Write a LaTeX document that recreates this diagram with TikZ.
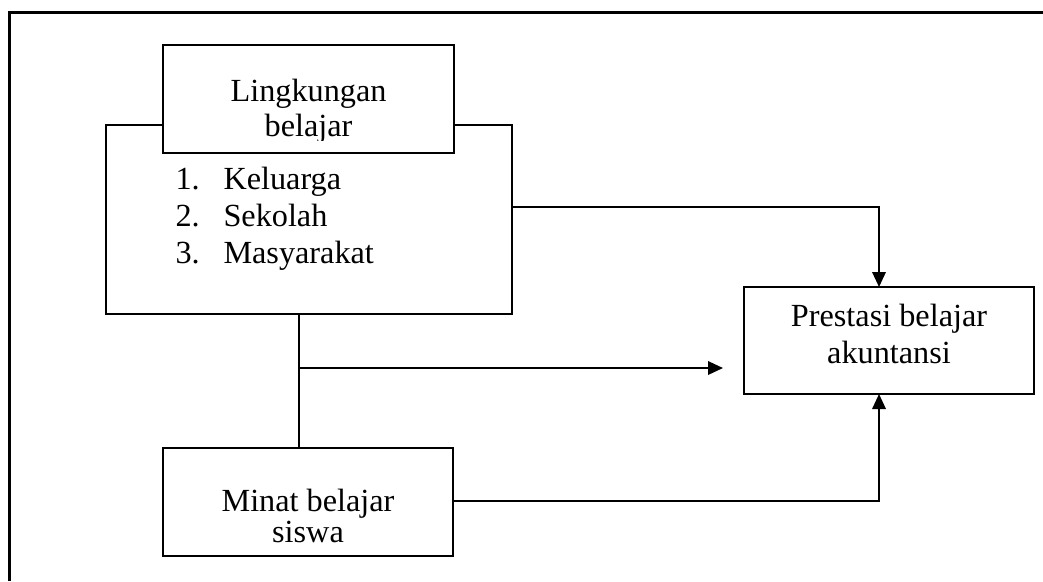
\documentclass[tikz,border=0pt]{standalone}
\usepackage{fontspec}
\setmainfont{Liberation Serif}
\usetikzlibrary{arrows.meta}
\begin{document}
\begin{tikzpicture}[x=0.4pt,y=-0.4pt,
  box/.style={draw,line width=0.75pt,minimum width=#1*0.4pt,inner sep=0pt},
  lbl/.style={anchor=base,inner sep=0pt,font=\fontsize{12.9}{15}\selectfont},
  con/.style={line width=0.75pt},
  arr/.style={con,-{Triangle[length=6pt,width=5.4pt]}}]
\useasboundingbox (0,0) rectangle (1043,581);
% frame
\draw[line width=1.2pt] (9,581) -- (9,12) -- (1043,12);
% boxes
\node[box=406,minimum height=189*0.4pt] (big) at (309,219.5) {};
\node[box=291,minimum height=108*0.4pt,fill=white] (top) at (308.5,99) {};
\node[box=290,minimum height=107*0.4pt] (pre) at (889,340.5) {};
\node[box=290,minimum height=108*0.4pt] (min) at (308,502) {};
% texts
\node[lbl] (t1) at (308.5,101) {Lingkungan};
\begin{scope}
\clip (160,100) rectangle (460,140);
\node[lbl] (t2) at (308.5,136) {belajar};
\end{scope}
\node[lbl,anchor=base west] (n1) at (175,189) {1.};
\node[lbl,anchor=base west] (k1) at (223,189) {Keluarga};
\node[lbl,anchor=base west] (n2) at (175,226) {2.};
\node[lbl,anchor=base west] (k2) at (223,226) {Sekolah};
\node[lbl,anchor=base west] (n3) at (175,263) {3.};
\node[lbl,anchor=base west] (k3) at (223,263) {Masyarakat};
\node[lbl] (p1) at (889,326) {Prestasi belajar};
\node[lbl] (p2) at (889,363) {akuntansi};
\node[lbl] (m1) at (308,511) {Minat belajar};
\node[lbl] (m2) at (308,542) {siswa};
% connectors
\coordinate (ta) at (879,287);
\coordinate (ba) at (879,394);
\coordinate (j) at (299,368);
\coordinate (mt) at (723,368);
\draw[arr] (big.east |- 0,207) -| (ta);
\draw[con] (big.south -| j) -- (min.north -| j);
\draw[arr] (j) -- (mt);
\draw[arr] (min.east |- 0,501) -| (ba);
\end{tikzpicture}
\end{document}
